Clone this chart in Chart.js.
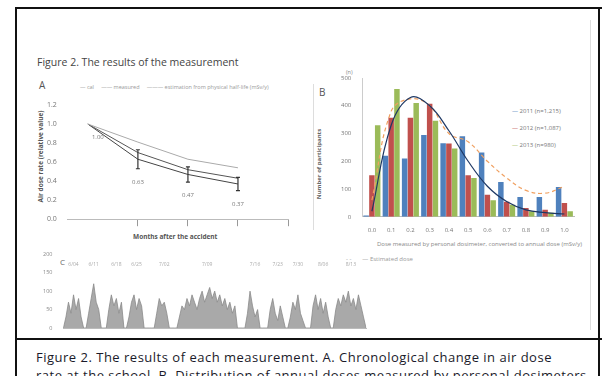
<!DOCTYPE html>
<html>
<head>
<meta charset="utf-8">
<script src="https://cdn.jsdelivr.net/npm/chart.js@4.4.1/dist/chart.umd.min.js"></script>
<style>
  html, body { margin: 0; padding: 0; background: #fff; width: 602px; height: 376px; overflow: hidden;
    font-family: "Open Sans", "Liberation Sans", sans-serif; }
  .abs { position: absolute; white-space: nowrap; }
  canvas { position: absolute; }
  .line { position: absolute; background: #111; }
  .rot { position: absolute; transform: rotate(-90deg); transform-origin: center center; white-space: nowrap; }
</style>
</head>
<body>

<!-- figure frame -->
<div class="line" style="left:15px;top:7px;width:2px;height:369px;"></div>
<div class="line" style="left:15px;top:7px;width:587px;height:2px;"></div>
<div class="line" style="left:598px;top:7px;width:2px;height:369px;"></div>
<div class="line" style="left:15px;top:338px;width:587px;height:2px;"></div>
<div class="line" style="left:590px;top:20px;width:1px;height:310px;background:#ddd;"></div>
<div class="line" style="left:313px;top:84px;width:1px;height:146px;background:#ddd;"></div>

<div class="abs" style="left:37px;top:55px;font-size:10.5px;color:#444;">Figure 2. The results of the measurement</div>

<!-- panel A text -->
<div class="abs" style="left:39px;top:78px;font-size:10px;color:#555;">A</div>
<div class="abs" style="left:80px;top:83px;font-size:5.5px;color:#999;">— cal&nbsp;&nbsp;&nbsp;&nbsp;&nbsp;—— measured&nbsp;&nbsp;&nbsp;&nbsp;&nbsp;——— estimation from physical half-life (mSv/y)</div>
<div class="rot" style="left:-18px;top:152px;width:116px;text-align:center;font-size:6.5px;font-weight:bold;color:#555;">Air dose rate (relative value)</div>
<div class="abs" style="left:133px;top:232px;font-size:6.5px;font-weight:bold;color:#555;">Months after the accident</div>

<!-- panel B text -->
<div class="abs" style="left:319px;top:85px;font-size:10px;color:#555;">B</div>
<div class="abs" style="left:346px;top:68px;font-size:5.5px;color:#888;">(n)</div>
<div class="rot" style="left:273px;top:160px;width:92px;text-align:center;font-size:6px;font-weight:bold;color:#666;">Number of participants</div>
<div class="abs" style="left:377px;top:240px;font-size:6px;color:#888;">Dose measured by personal dosimeter, converted to annual dose (mSv/y)</div>
<div class="abs" style="left:346px;top:255px;font-size:6px;color:#999;">- -&nbsp;&nbsp;&nbsp;&nbsp;&nbsp;&nbsp;&nbsp;— Estimated dose</div>
<div class="abs" style="left:512px;top:103px;font-size:6px;color:#777;line-height:17px;">
  <span style="color:#4f81bd">—</span> 2011 (n=1,215)<br>
  <span style="color:#c0504d">—</span> 2012 (n=1,087)<br>
  <span style="color:#9bbb59">—</span> 2013 (n=980)
</div>

<!-- panel C text -->
<div class="abs" style="left:60px;top:256px;font-size:8px;color:#666;">C</div>

<!-- caption -->
<div class="abs" style="left:36px;top:348px;font-size:13px;letter-spacing:0.5px;color:#1a1a2a;">Figure 2. The results of each measurement. A. Chronological change in air dose</div>
<div class="abs" style="left:36px;top:366px;font-size:13px;letter-spacing:0.5px;color:#1a1a2a;">rate at the school. B. Distribution of annual doses measured by personal dosimeters.</div>

<canvas id="chartA" width="250" height="140" style="left:44px;top:91px;"></canvas>
<canvas id="chartB" width="240" height="172" style="left:338px;top:64px;"></canvas>
<canvas id="chartC" width="328" height="92" style="left:40px;top:248px;"></canvas>

<script>
// ---- Panel A: relative air dose rate over time ----
const monthsA = [0, 1, 2, 3];
const doseCalculated = [1.0, 0.81, 0.63, 0.54];
const doseMeasured = [1.0, 0.70, 0.52, 0.43];
const doseHalfLife = [1.0, 0.63, 0.47, 0.37];
const errHalfLife = [0, 0.10, 0.08, 0.07];
const ticksA = [1, 2, 3, 4];

// ---- Panel B: distribution of annual personal doses ----
const doseBins = ['0.0', '0.1', '0.2', '0.3', '0.4', '0.5', '0.6', '0.7', '0.8', '0.9', '1.0'];
const count2011 = [5, 220, 210, 295, 265, 290, 232, 125, 71, 71, 107];
const count2012 = [150, 357, 357, 407, 264, 150, 79, 54, 32, 25, 50];
const count2013 = [330, 460, 410, 346, 246, 140, 60, 43, 20, 15, 20];
const fitObserved = [20, 330, 430, 400, 310, 200, 110, 55, 25, 15, 10];
const fitEstimated = [60, 380, 425, 400, 300, 270, 200, 140, 95, 85, 110];

// ---- Panel C: hourly dose readings ----
const readingsC = [
  0, 30, 70, 40, 90, 50, 80, 30, 0,
  0, 40, 80, 120, 70, 50, 0,
  0, 0, 50, 90, 60, 80, 40, 70, 0,
  0, 30, 70, 90, 50, 80, 60, 0,
  0, 0, 0, 0, 40, 80, 60, 70, 40, 0,
  0, 0, 0, 30, 60, 50, 80, 60, 90, 70, 50, 80, 100, 70, 90, 110, 80, 100, 70, 90, 60, 80, 50, 70, 40, 60, 0,
  0, 0, 0, 40, 100, 60, 30, 50, 0,
  0, 0, 0, 50, 80, 40, 20, 60, 30, 0,
  0, 30, 70, 50, 90, 40, 20, 0,
  0, 0, 60, 90, 50, 80, 40, 70, 30, 0,
  0, 50, 80, 60, 90, 70, 100, 60, 80, 50, 90, 60, 30, 0
];
const indexC = readingsC.map((_, i) => i);
const periodLabels = ['6/04', '6/11', '6/18', '6/25', '7/02', '7/09', '7/16', '7/23', '7/30', '8/06', '8/13'];
const periodCentres = [4, 12, 21, 29, 40, 57, 76, 85, 93, 103, 114];

const FONT = '"Open Sans","Liberation Sans",sans-serif';
Chart.defaults.font.family = FONT;

const errorBarsA = {
  id: 'errorBarsA',
  afterDatasetsDraw(chart) {
    const { ctx, scales: { x, y } } = chart;
    ctx.save();
    ctx.strokeStyle = '#333';
    ctx.lineWidth = 1.2;
    ctx.fillStyle = '#777';
    ctx.font = '6px ' + FONT;
    ctx.textAlign = 'center';
    monthsA.forEach((m, i) => {
      const px = x.getPixelForValue(m);
      const top = y.getPixelForValue(doseHalfLife[i] + errHalfLife[i]);
      const bot = y.getPixelForValue(doseHalfLife[i] - errHalfLife[i]);
      if (errHalfLife[i] > 0) {
        ctx.beginPath();
        ctx.moveTo(px, top); ctx.lineTo(px, bot);
        ctx.moveTo(px - 2, top); ctx.lineTo(px + 2, top);
        ctx.moveTo(px - 2, bot); ctx.lineTo(px + 2, bot);
        ctx.stroke();
      }
      ctx.fillText(doseHalfLife[i].toFixed(2), px + (i === 0 ? 10 : 0), bot + 15);
    });
    ctx.restore();
  }
};

new Chart(document.getElementById('chartA'), {
  type: 'line',
  data: {
    datasets: [
      { data: monthsA.map((m, i) => ({ x: m, y: doseCalculated[i] })), borderColor: '#aaa', borderWidth: 1, pointRadius: 0 },
      { data: monthsA.map((m, i) => ({ x: m, y: doseMeasured[i] })), borderColor: '#555', borderWidth: 1, pointRadius: 0 },
      { data: monthsA.map((m, i) => ({ x: m, y: doseHalfLife[i] })), borderColor: '#444', borderWidth: 1, pointRadius: 0 }
    ]
  },
  options: {
    responsive: false, animation: false, devicePixelRatio: 1,
    layout: { padding: { top: 14, right: 6, left: 0, bottom: 0 } },
    plugins: { legend: { display: false }, tooltip: { enabled: false } },
    scales: {
      x: {
        type: 'linear', min: -0.4, max: 4,
        afterBuildTicks: s => { s.ticks = ticksA.map(v => ({ value: v })); },
        ticks: { callback: () => '', font: { size: 4 }, padding: 0 },
        grid: { drawOnChartArea: false, drawTicks: true, tickLength: 7, color: '#999' },
        border: { color: '#bbb' }
      },
      y: {
        min: 0, max: 1.2,
        ticks: { stepSize: 0.2, callback: v => v.toFixed(1), font: { size: 7 }, color: '#777', padding: 3 },
        grid: { display: false },
        border: { display: false }
      }
    }
  },
  plugins: [errorBarsA]
});

new Chart(document.getElementById('chartB'), {
  type: 'bar',
  data: {
    labels: doseBins,
    datasets: [
      { type: 'line', data: fitObserved, borderColor: '#1f3864', borderWidth: 1.2, pointRadius: 0, tension: 0.4, order: 0 },
      { type: 'line', data: fitEstimated, borderColor: '#f0a060', borderWidth: 1.2, borderDash: [4, 3], pointRadius: 0, tension: 0.4, order: 0 },
      { label: '2011', data: count2011, backgroundColor: '#4f81bd', order: 1 },
      { label: '2012', data: count2012, backgroundColor: '#c0504d', order: 1 },
      { label: '2013', data: count2013, backgroundColor: '#9bbb59', order: 1 }
    ]
  },
  options: {
    responsive: false, animation: false, devicePixelRatio: 1,
    layout: { padding: { top: 14, right: 4, left: 0, bottom: 0 } },
    plugins: { legend: { display: false }, tooltip: { enabled: false } },
    datasets: { bar: { categoryPercentage: 0.9, barPercentage: 0.95 } },
    scales: {
      x: {
        ticks: { font: { size: 6 }, color: '#777', padding: 2, maxRotation: 0, autoSkip: false },
        grid: { display: false },
        border: { color: '#bbb' }
      },
      y: {
        min: 0, max: 500,
        ticks: { stepSize: 100, font: { size: 6 }, color: '#777', padding: 3 },
        grid: { display: false },
        border: { color: '#ccc' }
      }
    }
  }
});

const periodMarksC = {
  id: 'periodMarksC',
  afterDraw(chart) {
    const { ctx, scales: { x }, chartArea } = chart;
    ctx.save();
    ctx.fillStyle = '#aaa';
    ctx.font = '5px ' + FONT;
    ctx.textAlign = 'center';
    periodCentres.forEach((c, i) => {
      ctx.fillText(periodLabels[i], x.getPixelForValue(c), chartArea.top + 12);
    });
    ctx.restore();
  }
};

new Chart(document.getElementById('chartC'), {
  type: 'line',
  data: {
    labels: indexC,
    datasets: [{
      data: readingsC, borderColor: '#8a8a8a', borderWidth: 0.8,
      backgroundColor: 'rgba(140,140,140,0.75)', fill: 'origin', pointRadius: 0, tension: 0
    }]
  },
  options: {
    responsive: false, animation: false, devicePixelRatio: 1,
    layout: { padding: { top: 6, right: 2, left: 0, bottom: 4 } },
    plugins: { legend: { display: false }, tooltip: { enabled: false } },
    scales: {
      x: { display: true, ticks: { display: false }, grid: { display: false }, border: { color: '#bbb' } },
      y: {
        min: 0, max: 200,
        ticks: { stepSize: 50, font: { size: 5.5 }, color: '#888', padding: 3 },
        grid: { display: false },
        border: { display: false }
      }
    }
  },
  plugins: [periodMarksC]
});
</script>
</body>
</html>
